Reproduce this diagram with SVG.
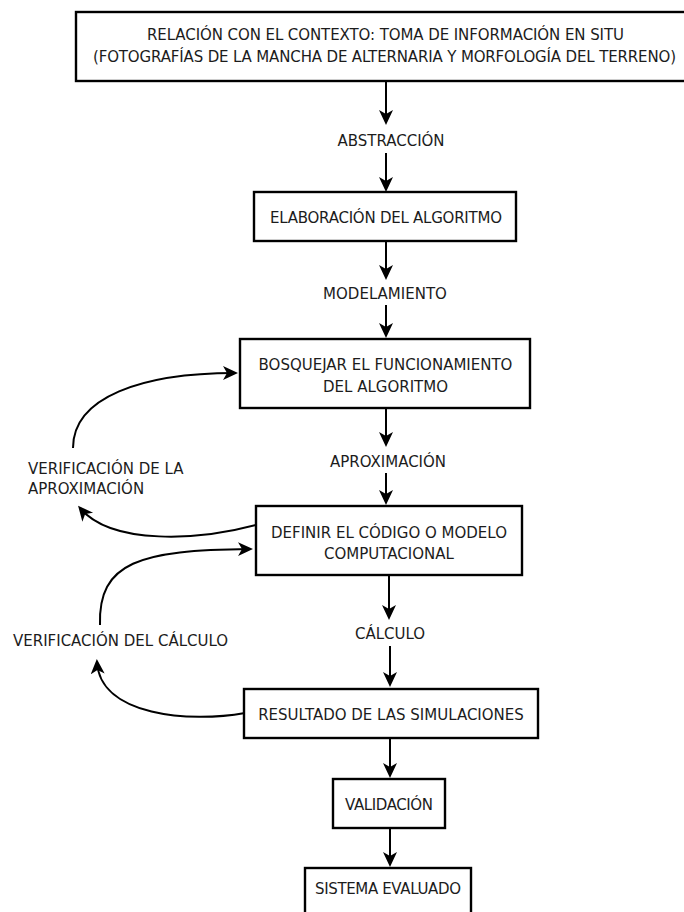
<svg xmlns="http://www.w3.org/2000/svg" width="684" height="912" viewBox="0 0 684 912">
  <defs>
    <marker id="head" markerUnits="userSpaceOnUse" markerWidth="16" markerHeight="16" viewBox="0 0 16 16" refX="12" refY="7" orient="auto">
      <path d="M0,0 L15,7 L0,14 L4,7 z" fill="#000"/>
    </marker>
    <style>
      .box { fill: #fff; stroke: #000; stroke-width: 2.4; }
      .lbl { font-family: "DejaVu Sans", "Liberation Sans", sans-serif; font-size: 15px; fill: #1c1c1c; }
      .mid { text-anchor: middle; }
      .link { fill: none; stroke: #000; stroke-width: 2; marker-end: url(#head); }
    </style>
  </defs>
  <rect width="684" height="912" fill="#fff"/>

  <!-- connectors -->
  <g id="connectors">
    <path class="link" d="M386,81 V122"/>
    <path class="link" d="M386,153 V189"/>
    <path class="link" d="M386,241 V277"/>
    <path class="link" d="M386,305 V335"/>
    <path class="link" d="M386,408 V444"/>
    <path class="link" d="M386,473 V502"/>
    <path class="link" d="M389,575 V617"/>
    <path class="link" d="M390,646 V684"/>
    <path class="link" d="M390,738 V775"/>
    <path class="link" d="M390,828 V864"/>
    <!-- feedback loops -->
    <path class="link" d="M73,448 C73,397 142,373 235,373"/>
    <path class="link" d="M256,525 C200,540 112,546 80,508"/>
    <path class="link" d="M100,625 C98,562 140,550 250,549"/>
    <path class="link" d="M245,713 C190,723 100,716 97,662"/>
  </g>

  <g id="n-contexto">
    <rect class="box" x="76" y="12" width="612" height="69"/>
    <text class="lbl mid" x="385.5" y="40" textLength="477">RELACIÓN CON EL CONTEXTO: TOMA DE INFORMACIÓN EN SITU</text>
    <text class="lbl mid" x="384.5" y="62" textLength="583">(FOTOGRAFÍAS DE LA MANCHA DE ALTERNARIA Y MORFOLOGÍA DEL TERRENO)</text>
  </g>

  <g id="l-abstraccion">
    <text class="lbl mid" x="391" y="145.5">ABSTRACCIÓN</text>
  </g>

  <g id="n-elaboracion">
    <rect class="box" x="254" y="192" width="262" height="49"/>
    <text class="lbl mid" x="386" y="222.5" textLength="232">ELABORACIÓN DEL ALGORITMO</text>
  </g>

  <g id="l-modelamiento">
    <text class="lbl mid" x="385" y="298.5">MODELAMIENTO</text>
  </g>

  <g id="n-bosquejar">
    <rect class="box" x="240" y="339" width="290" height="69"/>
    <text class="lbl mid" x="385.5" y="369.5">BOSQUEJAR EL FUNCIONAMIENTO</text>
    <text class="lbl mid" x="385.5" y="391.5">DEL ALGORITMO</text>
  </g>

  <g id="l-aproximacion">
    <text class="lbl mid" x="388" y="466.5">APROXIMACIÓN</text>
  </g>

  <g id="n-definir">
    <rect class="box" x="256" y="506" width="266" height="69"/>
    <text class="lbl mid" x="389" y="537.5">DEFINIR EL CÓDIGO O MODELO</text>
    <text class="lbl mid" x="389" y="558.5">COMPUTACIONAL</text>
  </g>

  <g id="l-calculo">
    <text class="lbl mid" x="390" y="638.5">CÁLCULO</text>
  </g>

  <g id="n-resultado">
    <rect class="box" x="244" y="689" width="294" height="49"/>
    <text class="lbl mid" x="391" y="719.5">RESULTADO DE LAS SIMULACIONES</text>
  </g>

  <g id="n-validacion">
    <rect class="box" x="333" y="779" width="112" height="49"/>
    <text class="lbl mid" x="389" y="810" textLength="88">VALIDACIÓN</text>
  </g>

  <g id="n-sistema">
    <rect class="box" x="305" y="868" width="166" height="60"/>
    <text class="lbl mid" x="388" y="894" textLength="146">SISTEMA EVALUADO</text>
  </g>

  <g id="l-verif-aprox">
    <text class="lbl" x="28" y="473.5">VERIFICACIÓN DE LA</text>
    <text class="lbl" x="28" y="493.5">APROXIMACIÓN</text>
  </g>

  <g id="l-verif-calculo">
    <text class="lbl" x="13" y="645.5">VERIFICACIÓN DEL CÁLCULO</text>
  </g>
</svg>
